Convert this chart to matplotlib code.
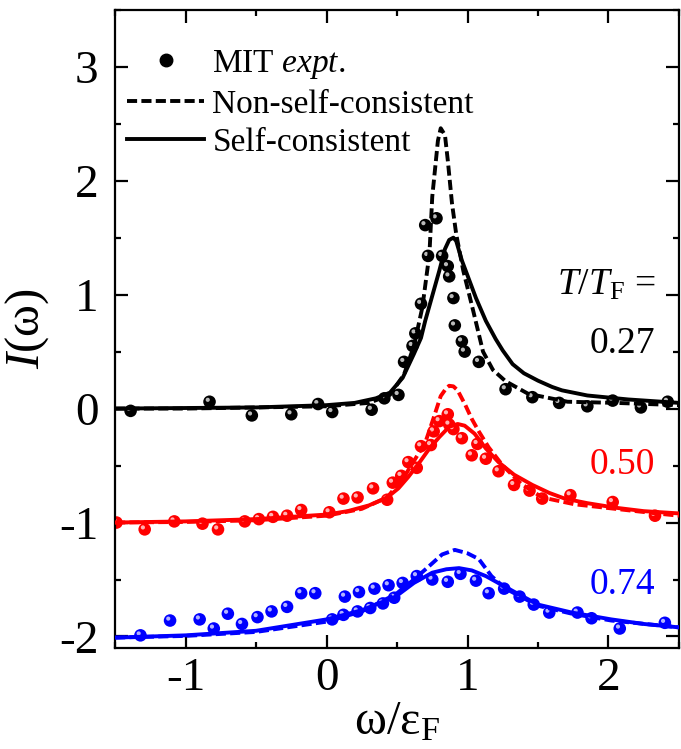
"""
Spectral function I(omega) at three temperatures: MIT data vs. the
non-self-consistent and self-consistent calculations.
"""

import matplotlib

matplotlib.use("Agg")
import matplotlib.pyplot as plt
from matplotlib.lines import Line2D
from matplotlib.ticker import MultipleLocator
from matplotlib.transforms import offset_copy


OUTPUT_FILE = "out.png"

# T/T_F = 0.27 (black, offset 0)
EXPT_027_X = [-1.39, -0.83, -0.53, -0.25, -0.06, 0.04, 0.32, 0.41, 0.51, 0.55,
              0.61, 0.63, 0.67, 0.70, 0.72, 0.78, 0.82, 0.86, 0.87, 0.90,
              0.91, 0.96, 0.98, 1.08, 1.27, 1.46, 1.65, 1.85, 2.03, 2.23, 2.42]
EXPT_027_Y = [-0.02, 0.06, -0.06, -0.05, 0.04, -0.03, -0.01, 0.09, 0.12, 0.41,
              0.55, 0.66, 0.92, 1.61, 1.34, 1.67, 1.34, 1.25, 1.16, 0.97,
              0.73, 0.59, 0.50, 0.41, 0.17, 0.10, 0.05, 0.02, 0.07, 0.01, 0.06]
NSC_027_X = [-1.5, -1.0, -0.5, 0.0, 0.3, 0.45, 0.55, 0.62, 0.68, 0.73, 0.75,
             0.79, 0.81, 0.84, 0.86, 0.89, 0.92, 0.97, 1.04, 1.11, 1.18, 1.27,
             1.43, 1.71, 2.05, 2.5]
NSC_027_Y = [0.0, 0.0, 0.01, 0.02, 0.05, 0.12, 0.30, 0.55, 0.89, 1.36, 1.86,
             2.35, 2.46, 2.40, 2.18, 1.80, 1.53, 1.21, 0.86, 0.50, 0.34, 0.24,
             0.13, 0.06, 0.05, 0.03]
SC_027_X = [-1.5, -1.0, -0.5, 0.0, 0.2, 0.35, 0.45, 0.54, 0.62, 0.67, 0.70,
            0.80, 0.84, 0.87, 0.90, 0.92, 0.96, 1.06, 1.13, 1.20, 1.25, 1.32,
            1.40, 1.50, 1.60, 1.67, 1.85, 2.14, 2.5]
SC_027_Y = [0.0, 0.005, 0.01, 0.03, 0.05, 0.09, 0.14, 0.27, 0.48, 0.62, 0.77,
            1.21, 1.40, 1.48, 1.50, 1.47, 1.30, 0.97, 0.77, 0.61, 0.51, 0.39,
            0.31, 0.245, 0.19, 0.16, 0.115, 0.08, 0.05]

# T/T_F = 0.50 (red, offset -1)
EXPT_050_X = [-1.49, -1.29, -1.08, -0.88, -0.77, -0.58, -0.48, -0.38, -0.28,
              -0.18, 0.02, 0.12, 0.22, 0.33, 0.43, 0.47, 0.53, 0.58, 0.64,
              0.67, 0.74, 0.76, 0.80, 0.86, 0.87, 0.90, 0.96, 1.03, 1.07,
              1.13, 1.22, 1.33, 1.44, 1.53, 1.73, 2.03, 2.33]
EXPT_050_Y = [-1.00, -1.06, -0.99, -1.01, -1.06, -0.99, -0.97, -0.95, -0.94,
              -0.89, -0.91, -0.79, -0.78, -0.70, -0.80, -0.65, -0.59, -0.47,
              -0.52, -0.33, -0.32, -0.20, -0.11, -0.05, -0.14, -0.18, -0.26,
              -0.41, -0.31, -0.44, -0.55, -0.67, -0.72, -0.79, -0.76, -0.82,
              -0.94]
NSC_050_X = [-1.5, -1.0, -0.5, 0.0, 0.25, 0.43, 0.55, 0.66, 0.70, 0.76, 0.81,
             0.85, 0.87, 0.90, 0.93, 0.985, 1.03, 1.08, 1.15, 1.25, 1.38,
             1.53, 1.76, 2.05, 2.34, 2.5]
NSC_050_Y = [-1.0, -0.995, -0.98, -0.94, -0.88, -0.78, -0.60, -0.38, -0.30,
             -0.08, 0.11, 0.18, 0.20, 0.195, 0.16, 0.03, -0.09, -0.20, -0.34,
             -0.50, -0.66, -0.78, -0.84, -0.88, -0.92, -0.94]
SC_050_X = [-1.5, -1.0, -0.5, 0.0, 0.15, 0.3, 0.43, 0.51, 0.58, 0.655, 0.73,
            0.80, 0.87, 0.93, 0.98, 1.05, 1.13, 1.22, 1.33, 1.46, 1.58, 1.69,
            1.85, 2.05, 2.25, 2.5]
SC_050_Y = [-1.0, -0.99, -0.97, -0.93, -0.90, -0.85, -0.78, -0.70, -0.60,
            -0.48, -0.35, -0.25, -0.16, -0.135, -0.15, -0.22, -0.35, -0.47,
            -0.58, -0.67, -0.74, -0.79, -0.83, -0.87, -0.90, -0.92]

# T/T_F = 0.74 (blue, offset -2)
EXPT_074_X = [-1.32, -1.11, -0.90, -0.80, -0.70, -0.60, -0.49, -0.39, -0.28,
              -0.18, -0.08, 0.04, 0.12, 0.13, 0.22, 0.23, 0.31, 0.34, 0.40,
              0.44, 0.48, 0.54, 0.64, 0.75, 0.86, 0.95, 1.06, 1.15, 1.26,
              1.37, 1.47, 1.58, 1.78, 1.88, 2.08, 2.40]
EXPT_074_Y = [-1.99, -1.86, -1.85, -1.93, -1.80, -1.89, -1.83, -1.78, -1.74,
              -1.62, -1.62, -1.85, -1.81, -1.65, -1.78, -1.61, -1.75, -1.58,
              -1.71, -1.55, -1.66, -1.53, -1.47, -1.50, -1.52, -1.45, -1.51,
              -1.62, -1.58, -1.65, -1.72, -1.79, -1.79, -1.84, -1.93, -1.88]
NSC_074_X = [-1.5, -1.0, -0.5, 0.0, 0.25, 0.49, 0.62, 0.73, 0.82, 0.91, 1.0,
             1.08, 1.17, 1.27, 1.50, 1.74, 2.02, 2.5]
NSC_074_Y = [-2.01, -1.995, -1.96, -1.87, -1.78, -1.63, -1.50, -1.38, -1.28,
             -1.24, -1.27, -1.32, -1.47, -1.58, -1.73, -1.80, -1.86, -1.92]
SC_074_X = [-1.5, -1.0, -0.5, 0.0, 0.25, 0.49, 0.62, 0.75, 0.85, 0.94, 1.03,
            1.13, 1.32, 1.50, 1.74, 2.02, 2.25, 2.5]
SC_074_Y = [-2.01, -1.99, -1.95, -1.85, -1.77, -1.65, -1.53, -1.44, -1.41,
            -1.40, -1.42, -1.47, -1.60, -1.72, -1.79, -1.85, -1.89, -1.92]

TEMPERATURE_LABELS = ["0.27", "0.50", "0.74"]
TEMPERATURE_LABEL_Y = [0.57, -0.49, -1.55]

SERIES = [
    ("black", "#d0d0d0", EXPT_027_X, EXPT_027_Y, NSC_027_X, NSC_027_Y, SC_027_X, SC_027_Y),
    ("#ff0000", "#ffc8c8", EXPT_050_X, EXPT_050_Y, NSC_050_X, NSC_050_Y, SC_050_X, SC_050_Y),
    ("#0000ff", "#c8c8ff", EXPT_074_X, EXPT_074_Y, NSC_074_X, NSC_074_Y, SC_074_X, SC_074_Y),
]

LINE_WIDTH = 2.8
DASHES = (2.6, 1.1)


def setup_style() -> None:
    """Times-like look of the original figure."""
    plt.rcParams["font.family"] = ["Liberation Serif", "DejaVu Serif"]
    plt.rcParams["mathtext.fontset"] = "custom"
    plt.rcParams["mathtext.rm"] = "Liberation Serif"
    plt.rcParams["mathtext.it"] = "Liberation Serif:italic"
    plt.rcParams["axes.unicode_minus"] = False
    plt.rcParams["axes.linewidth"] = 1.6


def draw_balls(ax, fig, x, y, color, shine) -> None:
    """Shaded sphere markers: a filled disc plus a small highlight."""
    ax.scatter(x, y, s=82, c=color, edgecolors="none", zorder=2)
    shift = offset_copy(ax.transData, fig=fig, x=-1.3, y=1.4, units="points")
    ax.scatter(x, y, s=9, c=shine, edgecolors="none", alpha=0.9,
               transform=shift, zorder=2)


def main() -> None:
    setup_style()
    fig = plt.figure(figsize=(6.81, 7.49), dpi=100)
    ax = fig.add_axes([0.169, 0.135, 0.828, 0.852])

    for color, shine, ex, ey, nx, ny, sx, sy in SERIES:
        draw_balls(ax, fig, ex, ey, color, shine)
        ax.plot(nx, ny, color=color, linewidth=LINE_WIDTH, dashes=DASHES,
                zorder=3)
        ax.plot(sx, sy, color=color, linewidth=LINE_WIDTH, zorder=3,
                solid_capstyle="butt")

    ax.text(2.33, 1.08, r"$T/T_{\mathrm{F}}$ =", fontsize=27,
            ha="right", va="center")
    for (color, *_), label, ly in zip(SERIES, TEMPERATURE_LABELS,
                                      TEMPERATURE_LABEL_Y):
        ax.text(2.33, ly, label, fontsize=27, color=color,
                ha="right", va="center")

    ax.set_xlim(-1.5, 2.5)
    ax.set_ylim(-2.1, 3.5)
    ax.xaxis.set_major_locator(MultipleLocator(1))
    ax.xaxis.set_minor_locator(MultipleLocator(0.5))
    ax.yaxis.set_major_locator(MultipleLocator(1))
    ax.yaxis.set_minor_locator(MultipleLocator(0.5))
    ax.tick_params(which="both", direction="in", top=True, right=True,
                   width=1.6, labelsize=34)
    ax.tick_params(which="major", length=9.5)
    ax.tick_params(which="minor", length=4.5)
    ax.tick_params(axis="x", which="major", pad=7)
    ax.tick_params(axis="y", which="major", pad=12)

    ax.set_xlabel(r"$\mathrm{\omega/\varepsilon_F}$", fontsize=35, labelpad=0)
    ax.set_ylabel(r"$I\mathrm{(\omega)}$", fontsize=35, labelpad=6)

    handles = [
        Line2D([], [], color="black", marker="o", markersize=9,
               linestyle="none"),
        Line2D([], [], color="black", linewidth=LINE_WIDTH, dashes=DASHES),
        Line2D([], [], color="black", linewidth=LINE_WIDTH),
    ]
    labels = [r"MIT $\mathit{expt.}$", "Non-self-consistent", "Self-consistent"]
    ax.legend(handles, labels, loc="upper left", bbox_to_anchor=(0.022, 0.94),
              frameon=False, fontsize=24, handlelength=2.3,
              handletextpad=0.25, labelspacing=0.24, borderpad=0,
              borderaxespad=0)

    fig.savefig(OUTPUT_FILE, dpi=100)
    plt.close(fig)


if __name__ == "__main__":
    main()
